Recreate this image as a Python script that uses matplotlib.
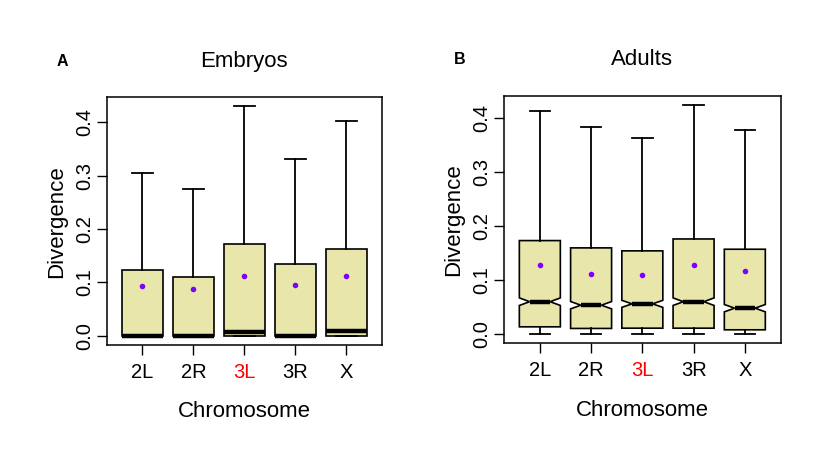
import matplotlib.pyplot as plt
import numpy as np

plt.rcParams['font.family'] = ['Liberation Sans', 'DejaVu Sans']

# Chromosome arms
chromosomes = ["2L", "2R", "3L", "3R", "X"]
label_colors = ["black", "black", "red", "black", "black"]

# Embryos: box statistics
emb_q1 = [0.0, 0.0, 0.0, 0.0, 0.0]
emb_med = [0.0, 0.0, 0.008, 0.0, 0.009]
emb_q3 = [0.123, 0.110, 0.173, 0.134, 0.163]
emb_lo = [0.0, 0.0, 0.0, 0.0, 0.0]
emb_hi = [0.306, 0.275, 0.430, 0.331, 0.403]
emb_mean = [0.093, 0.088, 0.112, 0.095, 0.112]

# Adults: box statistics, with notch limits
ad_q1 = [0.0135, 0.0105, 0.011, 0.011, 0.008]
ad_med = [0.060, 0.0535, 0.056, 0.060, 0.048]
ad_q3 = [0.173, 0.1595, 0.154, 0.176, 0.157]
ad_lo = [0.0, 0.0, 0.0, 0.0, 0.0]
ad_hi = [0.413, 0.383, 0.362, 0.424, 0.377]
ad_mean = [0.128, 0.111, 0.110, 0.128, 0.117]
ad_notch = [0.0070, 0.0068, 0.0065, 0.0070, 0.0068]

box_color = "#E8E6AA"
mean_color = "#7F00FF"


def make_stats(q1, med, q3, lo, hi, mean, notch=None):
    stats = []
    for i in range(len(q1)):
        s = dict(q1=q1[i], med=med[i], q3=q3[i], whislo=lo[i], whishi=hi[i],
                 mean=mean[i], fliers=[])
        if notch is not None:
            s['cilo'] = med[i] - notch[i]
            s['cihi'] = med[i] + notch[i]
        stats.append(s)
    return stats


def draw_panel(ax, stats, notch, ymax, title, letter):
    pos = np.arange(1, len(stats) + 1)
    ax.bxp(stats, positions=pos, widths=0.8, capwidths=0.4, shownotches=notch,
           showmeans=True, patch_artist=True, showfliers=False,
           boxprops=dict(facecolor=box_color, edgecolor="black", linewidth=1.2),
           whiskerprops=dict(color="black", linewidth=1.3),
           capprops=dict(color="black", linewidth=1.3),
           medianprops=dict(color="black", linewidth=3.2, solid_capstyle='butt'),
           meanprops=dict(marker="o", markersize=3, markerfacecolor=mean_color,
                          markeredgecolor=mean_color))
    ax.set_xlim(0.3, 5.7)
    ax.set_ylim(-0.04 * ymax, 1.04 * ymax)
    ax.set_xticks(pos)
    ax.set_xticklabels(chromosomes, fontsize=14.5)
    for lab, c in zip(ax.get_xticklabels(), label_colors):
        lab.set_color(c)
    ax.set_yticks([0.0, 0.1, 0.2, 0.3, 0.4])
    ax.set_yticklabels(["0.0", "0.1", "0.2", "0.3", "0.4"], fontsize=14.5,
                       rotation=90, va="center")
    ax.tick_params(axis='both', length=7, width=1.0, direction='out')
    ax.tick_params(axis='x', pad=6)
    ax.tick_params(axis='y', pad=2)
    for sp in ax.spines.values():
        sp.set_linewidth(1.1)
    ax.set_xlabel("Chromosome", fontsize=16, labelpad=14)
    ax.set_ylabel("Divergence", fontsize=16, labelpad=6)
    ax.set_title(title, fontsize=16, pad=22)
    ax.text(-0.16, 1.145, letter, transform=ax.transAxes, fontsize=11.5,
            fontweight="bold", ha="center", va="center")


fig = plt.figure(figsize=(8.3, 4.55), dpi=100)
ax1 = fig.add_axes([0.1286, 0.2418, 0.3317, 0.5444])
ax2 = fig.add_axes([0.6072, 0.2455, 0.3334, 0.5442])

draw_panel(ax1, make_stats(emb_q1, emb_med, emb_q3, emb_lo, emb_hi, emb_mean),
           False, 0.430, "Embryos", "A")
draw_panel(ax2, make_stats(ad_q1, ad_med, ad_q3, ad_lo, ad_hi, ad_mean, ad_notch),
           True, 0.424, "Adults", "B")

fig.savefig("out.png", dpi=100)
